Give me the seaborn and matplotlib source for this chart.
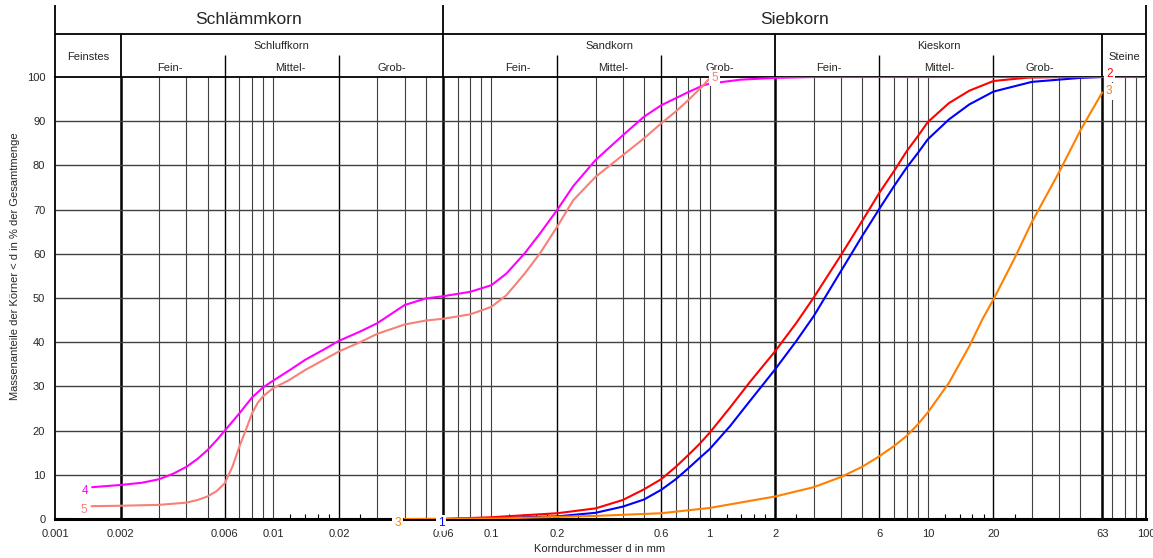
import numpy as np
import pandas as pd
import seaborn as sns
import matplotlib.pyplot as plt
from matplotlib.ticker import NullLocator

# Koernungslinien: d in mm, passing fraction in %
d_1 = [0.06, 0.1, 0.2, 0.3, 0.4, 0.5, 0.6, 0.7, 0.8, 0.9, 1.0, 1.24, 1.53, 2, 2.5, 3, 4, 5, 6, 7, 8, 9, 10,
       12.5, 15.5, 20, 30, 50, 63]
p_1 = [0, 0.2, 0.6, 1.4, 2.8, 4.4, 6.6, 9.0, 11.5, 13.8, 15.8, 21.0, 26.7, 33.9, 40.3, 45.9, 56.1, 64.0, 70.2,
       75.3, 79.5, 82.8, 85.9, 90.4, 93.8, 96.7, 98.9, 99.8, 100]

d_2 = [0.06, 0.1, 0.2, 0.3, 0.4, 0.5, 0.6, 0.7, 0.8, 0.9, 1.0, 1.24, 1.53, 2, 2.5, 3, 4, 5, 6, 7, 8, 9, 10,
       12.5, 15.5, 20, 28.6, 40, 63]
p_2 = [0, 0.4, 1.3, 2.4, 4.3, 6.7, 9.0, 11.8, 14.5, 17.0, 19.5, 25.2, 31.0, 38.0, 44.4, 50.1, 59.7, 67.4, 73.8,
       78.7, 83.2, 86.6, 89.8, 94.1, 96.9, 99.1, 99.85, 100, 100]

d_3 = [0.04, 0.06, 0.1, 0.3, 0.6, 1.0, 2, 3, 4, 5, 6, 7, 8, 9, 10, 12.5, 15.5, 17.8, 20, 24.7, 30, 40, 50, 63]
p_3 = [0, 0.05, 0.1, 0.7, 1.3, 2.5, 5.1, 7.2, 9.5, 11.8, 14.2, 16.5, 18.8, 21.4, 24.1, 30.8, 39.1, 45.2, 49.7,
       58.5, 67.2, 78.5, 87.9, 96.5]

d_4 = [0.00148, 0.002, 0.0025, 0.003, 0.0035, 0.004, 0.0045, 0.005, 0.0055, 0.006, 0.007, 0.008, 0.009, 0.01,
       0.012, 0.014, 0.017, 0.02, 0.025, 0.03, 0.035, 0.04, 0.05, 0.06, 0.08, 0.1, 0.117, 0.142, 0.167, 0.2,
       0.237, 0.3, 0.4, 0.5, 0.6, 0.8, 0.935, 1.0, 1.39, 2, 3, 100]
p_4 = [7.2, 7.7, 8.2, 9.0, 10.3, 11.8, 13.6, 15.6, 17.8, 20.0, 23.9, 27.5, 29.8, 31.3,
       33.8, 36.0, 38.3, 40.3, 42.4, 44.3, 46.5, 48.4, 49.9, 50.4, 51.4, 52.9, 55.5, 60.1, 64.6, 69.9,
       75.3, 81.2, 86.8, 91.0, 93.6, 96.6, 98.1, 98.5, 99.4, 99.8, 100, 100]

d_5 = [0.00147, 0.002, 0.003, 0.004, 0.0045, 0.005, 0.0055, 0.006, 0.0065, 0.007, 0.0075, 0.008, 0.0085, 0.009,
       0.01, 0.0118, 0.014, 0.02, 0.025, 0.03, 0.04, 0.05, 0.06, 0.08, 0.1, 0.117, 0.142, 0.167, 0.2,
       0.237, 0.3, 0.4, 0.5, 0.6, 0.7, 0.8, 0.935, 1.0]
p_5 = [2.9, 3.0, 3.2, 3.7, 4.3, 5.1, 6.3, 8.1, 11.8, 16.4, 20.2, 23.9, 26.3, 27.8,
       29.6, 31.4, 33.7, 37.9, 40.0, 41.9, 44.0, 44.9, 45.3, 46.3, 48.0, 50.6, 55.5, 60.1, 66.1,
       72.1, 77.4, 82.3, 86.1, 89.5, 92.2, 94.8, 98.1, 99.7]

colors = {'1': '#0000FF', '2': '#FF0000', '3': '#FF8000', '4': '#FF00FF', '5': '#F88078'}

# axis / grid definitions
tick_vals = [0.001, 0.002, 0.006, 0.01, 0.02, 0.06, 0.1, 0.2, 0.6, 1, 2, 6, 10, 20, 63, 100]
tick_text = ['0.001', '0.002', '0.006', '0.01', '0.02', '0.06', '0.1', '0.2', '0.6', '1', '2', '6', '10', '20', '63', '100']
main_bounds = [0.002, 0.06, 2, 63]
sub_bounds = [0.006, 0.02, 0.2, 0.6, 6, 20]
thin_lines = [0.003, 0.004, 0.005, 0.007, 0.008, 0.009, 0.01, 0.03, 0.04, 0.05, 0.07, 0.08, 0.09, 0.1,
              0.3, 0.4, 0.5, 0.7, 0.8, 0.9, 1, 3, 4, 5, 7, 8, 9, 10, 30, 40, 50, 70, 80, 90]
short_ticks = [0.012, 0.014, 0.016, 0.018, 0.025, 0.12, 0.14, 0.16, 0.18, 0.25,
               1.2, 1.4, 1.6, 1.8, 2.5, 12, 14, 16, 18, 25]

sns.set_style("white")
plt.rcParams['font.family'] = ['Liberation Sans', 'DejaVu Sans']

frames = []
for name, d, p in [('1', d_1, p_1), ('2', d_2, p_2), ('3', d_3, p_3), ('4', d_4, p_4), ('5', d_5, p_5)]:
    frames.append(pd.DataFrame({'d': d, 'p': p, 'probe': name}))
curves = pd.concat(frames, ignore_index=True)

fig = plt.figure(figsize=(11.53, 5.58), dpi=100)
ax = fig.add_axes([55 / 1153, 39 / 558, 1091 / 1153, 442 / 558])
ax.set_xscale('log')

# grid
ax.vlines(thin_lines, 0, 100, colors='#404040', lw=0.8, zorder=1)
ax.vlines(sub_bounds, 0, 100, colors='black', lw=1.0, zorder=1)
ax.vlines(main_bounds, 0, 100, colors='black', lw=1.8, zorder=1)
ax.vlines(short_ticks, 0, 1.2, colors='black', lw=0.8, zorder=1)
ax.hlines(np.arange(10, 100, 10), 0.001, 100, colors='#404040', lw=1.0, zorder=1)

sns.lineplot(data=curves, x='d', y='p', hue='probe', palette=colors, hue_order=['1', '2', '3', '4', '5'],
             estimator=None, sort=False, legend=False, linewidth=1.5, ax=ax, zorder=3,
             solid_joinstyle='round')

# curve numbers
box = dict(fc='white', ec='none', pad=1.5)
labels = [('4', d_4[0], p_4[0], -7, 4), ('5', d_5[0], p_5[0], -8, 4), ('5', d_5[-1], p_5[-1], 5, 0),
          ('2', d_2[-1], p_2[-1], 7, -3), ('3', d_3[-1], p_3[-1], 7, -1), ('3', d_3[0], p_3[0], -7, 4),
          ('1', d_1[0], p_1[0], -2, 4)]
for s, x, y, dx, dy in labels:
    ax.annotate(s, (x, y), xytext=(dx, -dy), textcoords='offset pixels', color=colors[s],
                fontsize=8.5, ha='center', va='center', bbox=box, zorder=4, annotation_clip=False)

ax.set_xlim(0.001, 100)
ax.set_ylim(0, 100)
ax.set_xticks(tick_vals, labels=tick_text)
ax.xaxis.set_minor_locator(NullLocator())
ax.set_yticks(range(0, 101, 10))
ax.tick_params(length=0, labelsize=8, pad=7)
ax.set_xlabel('')
ax.set_ylabel('')
for side in ['left', 'right', 'top']:
    ax.spines[side].set_linewidth(1.3)
    ax.spines[side].set_color('black')
ax.spines['bottom'].set_linewidth(2.2)
ax.spines['bottom'].set_color('black')

# header table
tr = ax.get_xaxis_transform()
ax.vlines([0.001, 0.06, 100], 1.0, 1.163, transform=tr, colors='black', lw=1.3, clip_on=False)
ax.vlines([0.002, 2, 63], 1.0, 1.097, transform=tr, colors='black', lw=1.3, clip_on=False)
ax.vlines(sub_bounds, 1.0, 1.05, transform=tr, colors='black', lw=1.0, clip_on=False)
ax.hlines(1.097, 0.001, 100, transform=tr, colors='black', lw=1.3, clip_on=False)

ax.text(np.sqrt(0.001 * 0.06), 1.129, 'Schlämmkorn', transform=tr, ha='center', va='center', fontsize=12.5)
ax.text(np.sqrt(0.06 * 100), 1.129, 'Siebkorn', transform=tr, ha='center', va='center', fontsize=12.5)
ax.text(np.sqrt(0.001 * 0.002), 1.045, 'Feinstes', transform=tr, ha='center', va='center', fontsize=8)
ax.text(np.sqrt(63 * 100), 1.045, 'Steine', transform=tr, ha='center', va='center', fontsize=8)
for name, a, b in [('Schluffkorn', 0.002, 0.06), ('Sandkorn', 0.06, 2), ('Kieskorn', 2, 63)]:
    ax.text(np.sqrt(a * b), 1.07, name, transform=tr, ha='center', va='center', fontsize=8)
sub_pos = [0.00337, 0.01197, 0.0351, 0.1316, 0.363, 1.11, 3.51, 11.35, 32.6]
for x, s in zip(sub_pos, ['Fein-', 'Mittel-', 'Grob-'] * 3):
    ax.text(x, 1.02, s, transform=tr, ha='center', va='center', fontsize=8)

fig.text(15 / 1153, 1 - 266 / 558, 'Massenanteile der Körner < d in % der Gesamtmenge',
         rotation=90, ha='center', va='center', fontsize=8)
fig.text(600 / 1153, 1 - 549 / 558, 'Korndurchmesser d in mm', ha='center', va='center', fontsize=8)

fig.savefig('out.png', dpi=100)
